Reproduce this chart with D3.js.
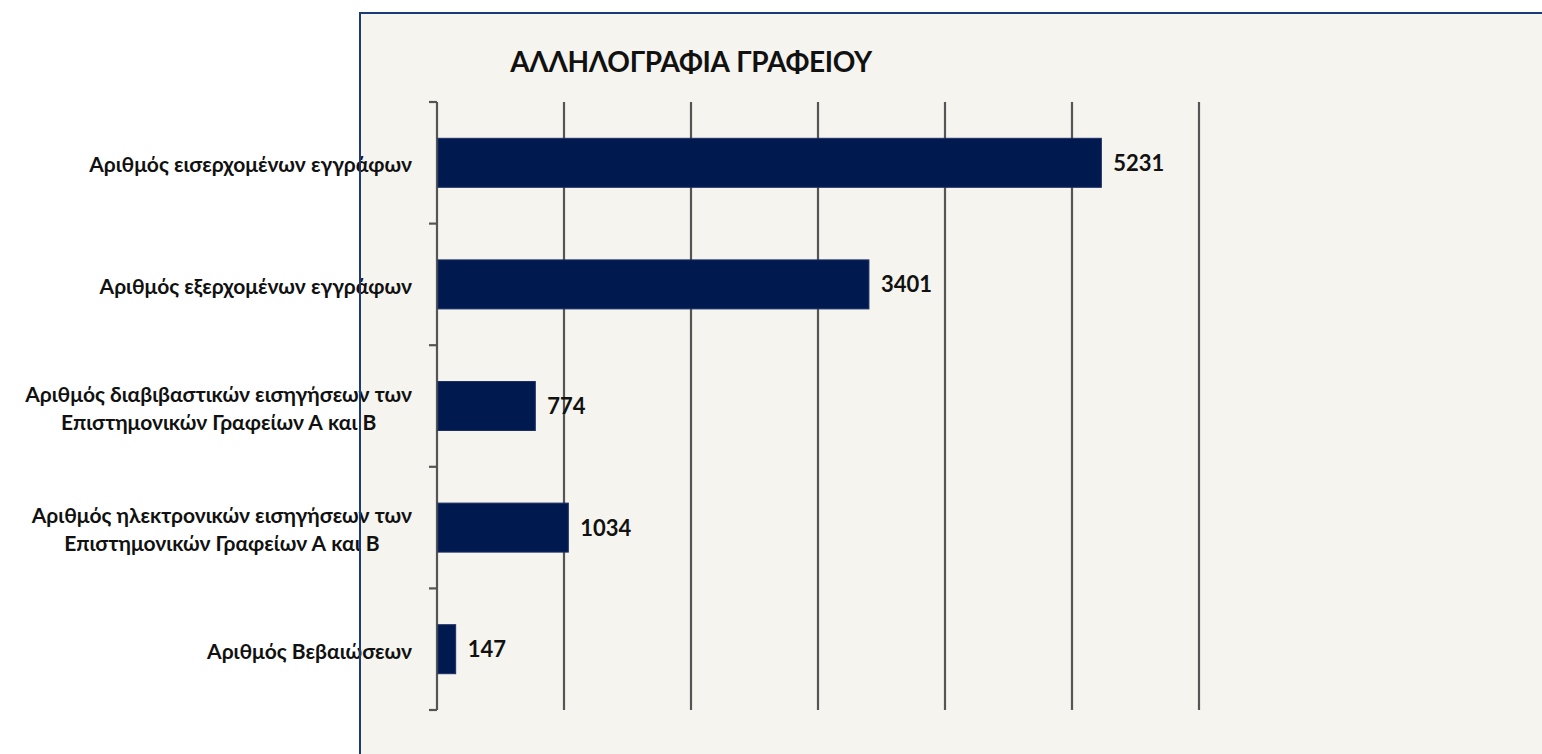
<!DOCTYPE html>
<html>
<head>
<meta charset="utf-8">
<script src="https://cdn.jsdelivr.net/npm/d3@7"></script>
<style>
  html, body { margin: 0; padding: 0; background: #fff; }
  svg { display: block; }
  text { font-family: Lato, "Open Sans", sans-serif; font-weight: bold; fill: #111; }
</style>
</head>
<body>
<div id="chart"></div>
<script>
// chart data
const title = "ΑΛΛΗΛΟΓΡΑΦΙΑ ΓΡΑΦΕΙΟΥ";
const categories = [
  ["Αριθμός εισερχομένων εγγράφων"],
  ["Αριθμός εξερχομένων εγγράφων"],
  ["Αριθμός διαβιβαστικών εισηγήσεων των", "Επιστημονικών Γραφείων Α και Β"],
  ["Αριθμός ηλεκτρονικών εισηγήσεων των", "Επιστημονικών Γραφείων Α και Β"],
  ["Αριθμός Βεβαιώσεων"]
];
const values = [5231, 3401, 774, 1034, 147];
const xTicks = [0, 1000, 2000, 3000, 4000, 5000, 6000];

const W = 1542, H = 754;
const plot = { left: 437, right: 1199, top: 102, bottom: 710 };

const svg = d3.select("#chart").append("svg")
  .attr("width", W).attr("height", H);

// chart area background
svg.append("rect")
  .attr("x", 360).attr("y", 13)
  .attr("width", W - 360).attr("height", H - 13)
  .attr("fill", "#f5f4ee");

const x = d3.scaleLinear().domain([0, 6000]).range([plot.left, plot.right]);
const y = d3.scaleBand()
  .domain(d3.range(values.length))
  .range([plot.top, plot.bottom])
  .paddingInner(0.597)
  .paddingOuter(0.2985);

// vertical gridlines (incl. axis at 0)
svg.append("g")
  .selectAll("line")
  .data(xTicks)
  .join("line")
  .attr("x1", d => x(d)).attr("x2", d => x(d))
  .attr("y1", plot.top).attr("y2", plot.bottom)
  .attr("stroke", "#555")
  .attr("stroke-width", 2.2);

// category tick marks at band boundaries
const step = y.step();
svg.append("g")
  .selectAll("line")
  .data(d3.range(values.length + 1))
  .join("line")
  .attr("x1", plot.left - 8).attr("x2", plot.left)
  .attr("y1", i => plot.top + i * step).attr("y2", i => plot.top + i * step)
  .attr("stroke", "#555")
  .attr("stroke-width", 2.2);

// bars
svg.append("g")
  .selectAll("rect")
  .data(values)
  .join("rect")
  .attr("x", x(0) + 1)
  .attr("y", (d, i) => y(i))
  .attr("width", d => x(d) - x(0) - 1)
  .attr("height", y.bandwidth())
  .attr("fill", "#001a4f")
  .attr("stroke", "#1c2f63")
  .attr("stroke-width", 1);

// value labels
svg.append("g")
  .selectAll("text")
  .data(values)
  .join("text")
  .attr("x", d => x(d) + 12)
  .attr("y", (d, i) => y(i) + y.bandwidth() / 2)
  .attr("dy", "0.36em")
  .attr("font-size", "22px")
  .text(d => d);

// category labels: block right-aligned, lines centred inside block
const labelRight = 412;
const lineGap = 28;
categories.forEach((lines, i) => {
  const g = svg.append("g");
  const cy = y(i) + y.bandwidth() / 2;
  const texts = lines.map((ln, j) => g.append("text")
    .attr("font-size", "21px")
    .attr("text-anchor", "middle")
    .attr("y", cy + (j - (lines.length - 1) / 2) * lineGap + 2)
    .attr("dy", "0.36em")
    .text(ln));
  const maxW = d3.max(texts, t => t.node().getComputedTextLength());
  texts.forEach(t => t.attr("x", labelRight - maxW / 2));
});

// title
svg.append("text")
  .attr("x", 691)
  .attr("y", 62)
  .attr("dy", "0.36em")
  .attr("text-anchor", "middle")
  .attr("font-size", "28px")
  .attr("letter-spacing", "-0.3px")
  .text(title);

// chart area border (left + top), drawn over the labels
svg.append("path")
  .attr("d", `M360,${H}V13H${W}`)
  .attr("fill", "none")
  .attr("stroke", "#1b3a78")
  .attr("stroke-width", 2);
</script>
</body>
</html>
